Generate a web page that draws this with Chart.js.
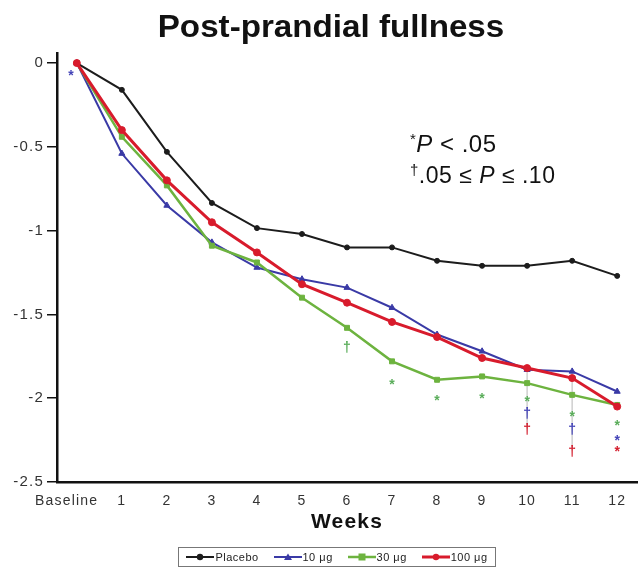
<!DOCTYPE html>
<html>
<head>
<meta charset="utf-8">
<script src="https://cdn.jsdelivr.net/npm/chart.js@4.4.1/dist/chart.umd.min.js"></script>
<style>
  html, body { margin: 0; padding: 0; background: #fff; }
  #wrap { position: relative; width: 642px; height: 575px; }
  #legend {
    position: absolute; left: 178px; top: 547px; width: 318px; height: 20px;
    box-sizing: border-box; border: 1px solid #777;
    display: flex; align-items: center; justify-content: space-around;
    font: 11px "Liberation Sans", Arial, sans-serif; letter-spacing: 0.5px; color: #222;
  }
  .item { display: flex; align-items: center; }
  .item svg { margin-right: 1px; }
</style>
</head>
<body>
<div id="wrap">
  <canvas id="chart" width="642" height="575"></canvas>
  <div id="legend"></div>
</div>
<script>
const weeks = [0, 1, 2, 3, 4, 5, 6, 7, 8, 9, 10, 11, 12];
const weekLabels = ["Baseline    ", "1", "2", "3", "4", "5", "6", "7", "8", "9", "10", "11", "12"];
const yTicks = [0, -0.5, -1, -1.5, -2, -2.5];

const seriesNames = ["Placebo", "10 μg", "30 μg", "100 μg"];
const placebo = [0, -0.16, -0.53, -0.835, -0.985, -1.02, -1.10, -1.10, -1.18, -1.21, -1.21, -1.18, -1.27];
const dose10 = [0, -0.54, -0.85, -1.07, -1.22, -1.29, -1.34, -1.46, -1.62, -1.72, -1.83, -1.84, -1.96];
const dose30 = [0, -0.44, -0.73, -1.09, -1.19, -1.40, -1.58, -1.78, -1.89, -1.87, -1.91, -1.98, -2.04];
const dose100 = [0, -0.40, -0.70, -0.95, -1.13, -1.32, -1.43, -1.545, -1.635, -1.76, -1.82, -1.88, -2.05];

// significance flags: week, y position, symbol, series index
const sigWeek = [-0.13, 6, 7, 8, 9, 10, 10, 10, 11, 11, 11, 12, 12, 12];
const sigY = [-0.055, -1.69, -1.90, -1.99, -1.98, -2.00, -2.08, -2.18, -2.09, -2.18, -2.31, -2.14, -2.23, -2.30];
const sigMark = ["*", "†", "*", "*", "*", "*", "†", "†", "*", "†", "†", "*", "*", "*"];
const sigSeries = [1, 2, 2, 2, 2, 2, 1, 3, 2, 1, 3, 2, 1, 3];

// faint connectors under the weeks with stacked flags
const guideWeek = [10, 11];
const guideTop = [-1.83, -1.84];
const guideBottom = [-2.18, -2.31];

const colors = ["#1c1c1c", "#3a3aa6", "#6db33f", "#d81b2c"];
const markColors = ["#1c1c1c", "#4444b8", "#5aad5a", "#d42030"];
const styles = ["circle", "triangle", "rect", "circle"];
const widths = [2, 2, 2.5, 3];
const radii = [2.5, 3.5, 3.5, 3.5];
const orders = [3, 2, 1, 0];
const values = [placebo, dose10, dose30, dose100];

const FONT = "'Liberation Sans', Arial, sans-serif";

const datasets = values.map((vals, i) => ({
  label: seriesNames[i],
  data: weeks.map((w, j) => ({ x: w, y: vals[j] })),
  borderColor: colors[i],
  backgroundColor: colors[i],
  borderWidth: widths[i],
  pointStyle: styles[i],
  pointRadius: radii[i],
  pointBorderWidth: 1,
  tension: 0,
  order: orders[i],
}));

const extras = {
  id: "extras",
  beforeDraw(chart) {
    // axis text is set a little loose
    chart.ctx.letterSpacing = "1.2px";
  },
  beforeDatasetsDraw(chart) {
    const { ctx, scales: { x, y } } = chart;
    ctx.save();
    ctx.strokeStyle = "#cfcfcf";
    ctx.lineWidth = 1.5;
    guideWeek.forEach((w, i) => {
      ctx.beginPath();
      ctx.moveTo(x.getPixelForValue(w), y.getPixelForValue(guideTop[i]));
      ctx.lineTo(x.getPixelForValue(w), y.getPixelForValue(guideBottom[i]));
      ctx.stroke();
    });
    ctx.restore();
  },
  afterDraw(chart) {
    const { ctx, scales: { x, y } } = chart;
    ctx.save();
    ctx.letterSpacing = "0px";

    // title, slightly widened
    ctx.save();
    ctx.fillStyle = "#111";
    ctx.textAlign = "center";
    ctx.textBaseline = "alphabetic";
    ctx.font = "bold 31px " + FONT;
    ctx.translate(331, 37);
    ctx.scale(1.07, 1);
    ctx.fillText("Post-prandial fullness", 0, 0);
    ctx.restore();

    // significance flags
    ctx.font = "bold 14px " + FONT;
    ctx.textAlign = "center";
    sigWeek.forEach((w, i) => {
      ctx.fillStyle = markColors[sigSeries[i]];
      const px = x.getPixelForValue(w);
      const py = y.getPixelForValue(sigY[i]);
      ctx.fillText(sigMark[i], px, py + (sigMark[i] === "*" ? 8 : 6));
    });

    // p-value key
    ctx.letterSpacing = "0.5px";
    ctx.fillStyle = "#111";
    ctx.textAlign = "left";
    const parts = (list, x0, base) => {
      let cx = x0;
      list.forEach(([text, font, dy]) => {
        ctx.font = font;
        ctx.fillText(text, cx, base + dy);
        cx += ctx.measureText(text).width;
      });
    };
    parts([
      ["*", "15px " + FONT, -8],
      ["P", "italic 24px " + FONT, 0],
      [" < .05", "24px " + FONT, 0],
    ], 410, 152);
    parts([
      ["†", "15px " + FONT, -8],
      [".05 ≤ ", "23px " + FONT, 0],
      ["P", "italic 23px " + FONT, 0],
      [" ≤ .10", "23px " + FONT, 0],
    ], 410, 183);
    ctx.restore();
  },
};

new Chart(document.getElementById("chart"), {
  type: "line",
  data: { datasets },
  options: {
    responsive: false,
    animation: false,
    layout: { padding: { top: 53, right: 0, bottom: 35, left: 0 } },
    plugins: { legend: { display: false }, tooltip: { enabled: false } },
    scales: {
      x: {
        type: "linear",
        min: -0.44,
        max: 12.44,
        afterBuildTicks: (s) => { s.ticks = weeks.map((v) => ({ value: v })); },
        afterFit: (s) => { s.height = 58; },
        grid: { display: false, drawTicks: false },
        border: { display: true, color: "#111", width: 2.5 },
        ticks: {
          padding: 11,
          color: "#333",
          maxRotation: 0,
          minRotation: 0,
          autoSkip: false,
          font: { family: FONT, size: 14 },
          callback: (v) => weekLabels[weeks.indexOf(v)],
        },
        title: {
          display: true,
          text: "Weeks",
          color: "#111",
          font: { family: FONT, size: 21, weight: "bold" },
          padding: { top: 0, bottom: 5 },
        },
      },
      y: {
        min: -2.5,
        max: 0.06,
        afterBuildTicks: (s) => { s.ticks = yTicks.map((v) => ({ value: v })); },
        afterFit: (s) => { s.width = 57; },
        grid: { drawOnChartArea: false, drawTicks: true, tickLength: 10, tickColor: "#111", lineWidth: 1.5 },
        border: { display: true, color: "#111", width: 2.5 },
        ticks: {
          padding: 3,
          color: "#333",
          font: { family: FONT, size: 15 },
          callback: (v) => String(v),
        },
      },
    },
  },
  plugins: [extras],
});

// legend strip below the axes
const shapes = {
  circle: (c) => `<circle cx="14" cy="5" r="3.2" fill="${c}"/>`,
  triangle: (c) => `<polygon points="14,1.5 18,8 10,8" fill="${c}"/>`,
  rect: (c) => `<rect x="10.5" y="1.5" width="7" height="7" fill="${c}"/>`,
};
const legend = document.getElementById("legend");
seriesNames.forEach((name, i) => {
  const item = document.createElement("span");
  item.className = "item";
  item.innerHTML =
    `<svg width="28" height="10"><line x1="0" y1="5" x2="28" y2="5" stroke="${colors[i]}" stroke-width="${widths[i]}"/>${shapes[styles[i]](colors[i])}</svg>` +
    `<span>${name}</span>`;
  legend.appendChild(item);
});
</script>
</body>
</html>
